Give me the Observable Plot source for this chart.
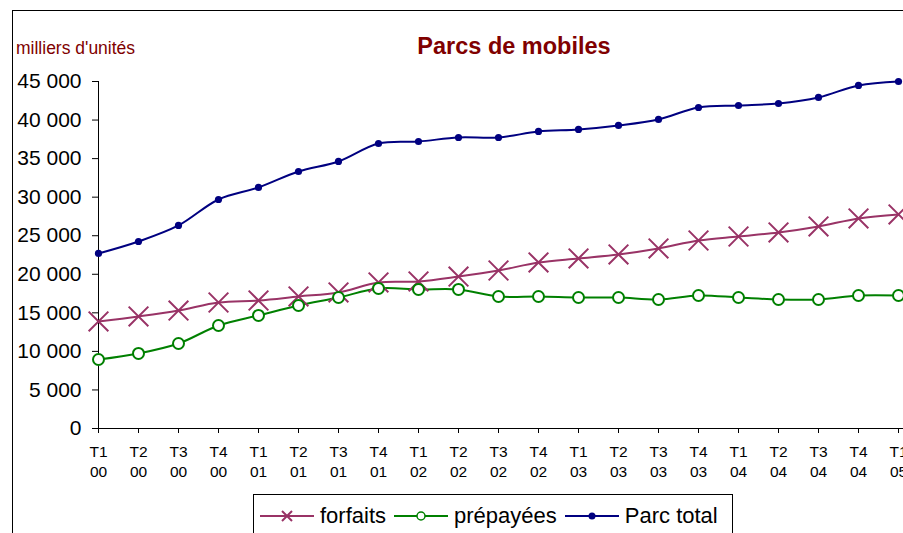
<!DOCTYPE html>
<html>
<head>
<meta charset="utf-8">
<script src="https://cdn.jsdelivr.net/npm/d3@7"></script>
<script src="https://cdn.jsdelivr.net/npm/@observablehq/plot@0.6"></script>
<style>
  html, body { margin: 0; padding: 0; background: #fff; }
  #wrap { position: relative; width: 903px; height: 533px; overflow: hidden; background: #fff;
          font-family: "Liberation Sans", Arial, sans-serif; }
  #frame { position: absolute; left: 12px; top: 10px; width: 1000px; height: 1000px;
           border-top: 1px solid #000; border-left: 1px solid #000; }
  #title { position: absolute; left: 0; width: 1028px; top: 35px; text-align: center;
           font-size: 23.5px; line-height: 23px; font-weight: bold; color: #800000; }
  #unit { position: absolute; left: 16px; top: 40px; font-size: 17.5px; line-height: 17px; color: #800000; }
  #chart { position: absolute; left: 0; top: 0; }
  #legend { position: absolute; left: 253px; top: 494px; width: 480px; height: 60px;
            border: 1px solid #000; background: #fff; display: flex; align-items: flex-start;
            padding: 8px 0 0 6px; box-sizing: border-box; font-size: 22px; color: #000; }
  .item { display: flex; align-items: center; margin-right: 8px; }
  .item svg { margin-right: 6px; }
</style>
</head>
<body>
<div id="wrap">
  <div id="frame"></div>
  <div id="chart"></div>
  <div id="unit">milliers d'unités</div>
  <div id="title">Parcs de mobiles</div>
  <div id="legend"></div>
</div>
<script>
// Categories (quarters and years)
const quarters = ["T1","T2","T3","T4","T1","T2","T3","T4","T1","T2","T3","T4","T1","T2","T3","T4","T1","T2","T3","T4","T1"];
const years    = ["00","00","00","00","01","01","01","01","02","02","02","02","03","03","03","03","04","04","04","04","05"];

// Series values (milliers d'unités)
const forfaits  = [13880,14530,15300,16340,16600,17120,17640,18940,19070,19710,20490,21530,22050,22570,23350,24380,24900,25420,26200,27240,27760];
const prepayees = [8950,9730,11020,13360,14660,15950,16990,18160,18030,18030,17120,17120,16990,16990,16730,17250,16990,16730,16730,17250,17250];
const parcTotal = [22700,24250,26330,29700,31260,33330,34630,36960,37220,37740,37740,38520,38780,39300,40080,41630,41890,42150,42930,44490,45000];

// Y tick values
const yTicks = [0,5000,10000,15000,20000,25000,30000,35000,40000,45000];

const seriesNames = ["forfaits","prépayées","Parc total"];
const seriesColors = ["#993366","#008000","#000080"];

const labels = quarters.map((q, i) => q + "\n" + years[i]);
const toRows = (vals, name) => vals.map((v, i) => ({x: labels[i], y: v, series: name}));
const rowsF = toRows(forfaits, seriesNames[0]);
const rowsP = toRows(prepayees, seriesNames[1]);
const rowsT = toRows(parcTotal, seriesNames[2]);

const fmt = d => d3.format(",")(d).replace(/,/g, " ");

const chart = Plot.plot({
  width: 903,
  height: 533,
  marginLeft: 98,
  marginRight: 0,
  marginTop: 81,
  marginBottom: 105,
  style: {fontFamily: "'Liberation Sans', Arial, sans-serif", background: "transparent", color: "#000", overflow: "visible"},
  x: {type: "point", domain: labels, range: [98, 898], padding: 0},
  y: {domain: [0, 45000]},
  marks: [
    Plot.ruleY([0], {stroke: "#000", strokeWidth: 1}),
    Plot.ruleX([labels[0]], {y1: 0, y2: 45000, stroke: "#000", strokeWidth: 1}),
    Plot.axisY({ticks: yTicks, tickFormat: fmt, tickSize: 6, tickPadding: 11, fontSize: 21, label: null, stroke: "#000", strokeOpacity: 1}),
    Plot.axisX({tickSize: 5, tickPadding: 9, fontSize: 15.5, lineHeight: 1.3, label: null, stroke: "#000", strokeOpacity: 1}),
    Plot.line(rowsF, {x: "x", y: "y", stroke: seriesColors[0], strokeWidth: 2, curve: "catmull-rom"}),
    Plot.line(rowsP, {x: "x", y: "y", stroke: seriesColors[1], strokeWidth: 2, curve: "catmull-rom"}),
    Plot.line(rowsT, {x: "x", y: "y", stroke: seriesColors[2], strokeWidth: 2, curve: "catmull-rom"}),
    Plot.dot(rowsF, {x: "x", y: "y", symbol: "times", r: 9, stroke: seriesColors[0], strokeWidth: 2}),
    Plot.dot(rowsP, {x: "x", y: "y", symbol: "circle", r: 5.5, stroke: seriesColors[1], fill: "#fff", strokeWidth: 2}),
    Plot.dot(rowsT, {x: "x", y: "y", symbol: "circle", r: 3.6, fill: seriesColors[2], stroke: "none"})
  ]
});
document.getElementById("chart").appendChild(chart);

// Legend
const legend = d3.select("#legend");
seriesNames.forEach((name, i) => {
  const item = legend.append("div").attr("class", "item");
  const svg = item.append("svg").attr("width", 54).attr("height", 16);
  svg.append("line").attr("x1", 0).attr("x2", 54).attr("y1", 8).attr("y2", 8)
     .attr("stroke", seriesColors[i]).attr("stroke-width", 2);
  if (i === 0) {
    svg.append("path").attr("d", "M22,3L32,13M32,3L22,13").attr("stroke", seriesColors[i]).attr("stroke-width", 2);
  } else if (i === 1) {
    svg.append("circle").attr("cx", 27).attr("cy", 8).attr("r", 4).attr("fill", "#fff")
       .attr("stroke", seriesColors[i]).attr("stroke-width", 1.5);
  } else {
    svg.append("circle").attr("cx", 27).attr("cy", 8).attr("r", 3.5).attr("fill", seriesColors[i]);
  }
  item.append("span").text(name);
});
</script>
</body>
</html>
